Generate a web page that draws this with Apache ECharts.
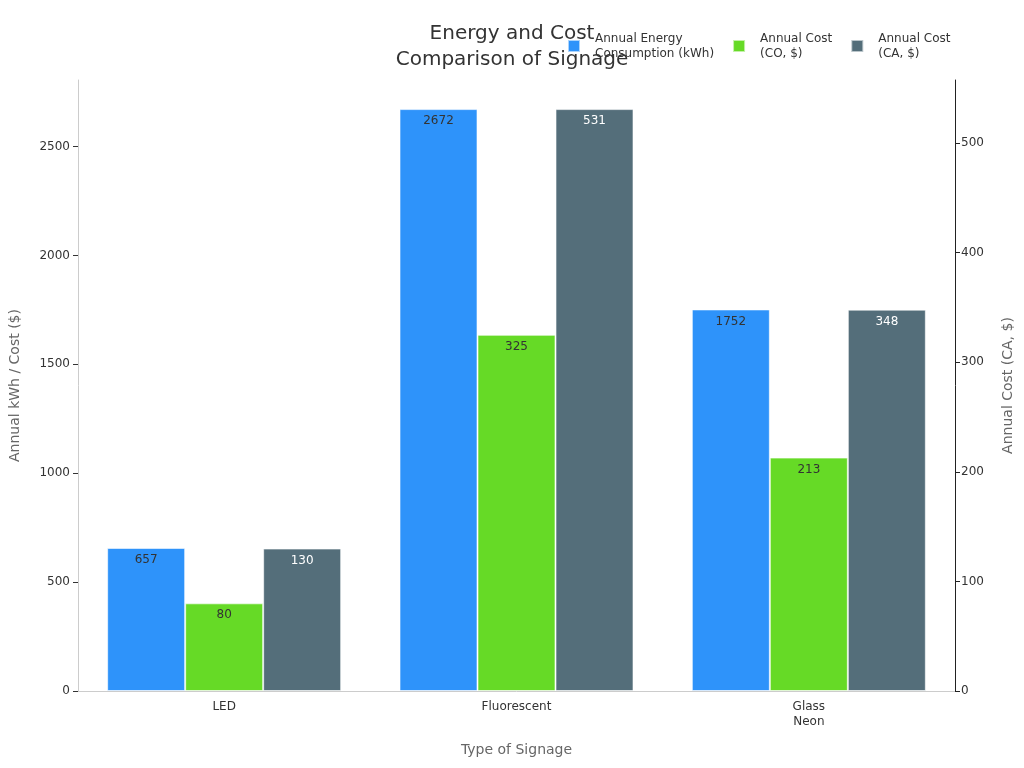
<!DOCTYPE html>
<html>
<head>
<meta charset="utf-8">
<script src="https://cdn.jsdelivr.net/npm/echarts@6/dist/echarts.min.js"></script>
<style>
  html, body { margin: 0; padding: 0; background: #fff; }
  #chart { width: 1024px; height: 768px; }
</style>
</head>
<body>
<div id="chart"></div>
<script>
var categories = ['LED', 'Fluorescent', 'Glass\nNeon'];
var energyKwh = [657, 2672, 1752];
var costCO = [80, 325, 213];
var costCA = [130, 531, 348];
var leftTicks = [0, 500, 1000, 1500, 2000, 2500];
var rightTicks = [0, 100, 200, 300, 400, 500];

var font = 'DejaVu Sans';
var leftMax = Math.max.apply(null, energyKwh) * 1.05;
var rightMax = Math.max.apply(null, costCA) * 1.05;

var chart = echarts.init(document.getElementById('chart'));

function plain(v) { return String(v); }

var option = {
  backgroundColor: '#fff',
  textStyle: { fontFamily: font },
  title: {
    text: 'Energy and Cost\nComparison of Signage',
    left: 'center',
    top: 16,
    textStyle: { fontFamily: font, fontSize: 20, fontWeight: 'normal', color: '#333', lineHeight: 26 }
  },
  legend: {
    top: 26,
    left: 562,
    itemWidth: 12,
    itemHeight: 12,
    itemGap: 18,
    icon: 'rect',
    textStyle: { fontFamily: font, fontSize: 12, color: '#333', lineHeight: 15, padding: [0, 0, 0, 10] },
    data: ['Annual Energy\nConsumption (kWh)', 'Annual Cost\n(CO, $)', 'Annual Cost\n(CA, $)']
  },
  grid: { left: 76, right: 69, top: 80, bottom: 77 },
  xAxis: {
    type: 'category',
    data: categories,
    name: 'Type of Signage',
    nameLocation: 'middle',
    nameGap: 52,
    nameTextStyle: { fontFamily: font, fontSize: 14, color: '#666' },
    axisLine: { lineStyle: { color: '#ccc' } },
    axisTick: { alignWithLabel: true, length: 4, lineStyle: { color: '#333' } },
    axisLabel: { fontFamily: font, fontSize: 12, color: '#333', margin: 8, lineHeight: 15 }
  },
  yAxis: [
    {
      type: 'value',
      min: 0,
      max: leftMax,
      name: 'Annual kWh / Cost ($)',
      nameLocation: 'middle',
      nameGap: 56,
      nameTextStyle: { fontFamily: font, fontSize: 14, color: '#666' },
      axisLine: { show: true, lineStyle: { color: '#ccc' } },
      axisTick: { show: true, length: 5, lineStyle: { color: '#333' }, customValues: leftTicks },
      axisLabel: { fontFamily: font, fontSize: 12, color: '#333', margin: 8, customValues: leftTicks, formatter: plain },
      splitLine: { show: false }
    },
    {
      type: 'value',
      min: 0,
      max: rightMax,
      position: 'right',
      name: 'Annual Cost (CA, $)',
      nameLocation: 'middle',
      nameGap: 46,
      nameRotate: 90,
      nameTextStyle: { fontFamily: font, fontSize: 14, color: '#666' },
      axisLine: { show: true, lineStyle: { color: '#222' } },
      axisTick: { show: true, length: 5, lineStyle: { color: '#222' }, customValues: rightTicks },
      axisLabel: { fontFamily: font, fontSize: 12, color: '#333', margin: 6, customValues: rightTicks, formatter: plain },
      splitLine: { show: false }
    }
  ],
  series: [
    {
      name: 'Annual Energy\nConsumption (kWh)',
      type: 'bar',
      yAxisIndex: 0,
      data: energyKwh,
      barWidth: 78,
      barGap: 0,
      itemStyle: { color: '#2E93fA', borderColor: 'rgba(255,255,255,0.6)', borderWidth: 1 },
      label: { show: true, position: 'insideTop', distance: 6, fontFamily: font, fontSize: 12, color: '#333' }
    },
    {
      name: 'Annual Cost\n(CO, $)',
      type: 'bar',
      yAxisIndex: 1,
      data: costCO,
      barWidth: 78,
      barGap: 0,
      itemStyle: { color: '#66DA26', borderColor: 'rgba(255,255,255,0.6)', borderWidth: 1 },
      label: { show: true, position: 'insideTop', distance: 6, fontFamily: font, fontSize: 12, color: '#333' }
    },
    {
      name: 'Annual Cost\n(CA, $)',
      type: 'bar',
      yAxisIndex: 1,
      data: costCA,
      barWidth: 78,
      barGap: 0,
      itemStyle: { color: '#546E7A', borderColor: 'rgba(255,255,255,0.6)', borderWidth: 1 },
      label: { show: true, position: 'insideTop', distance: 6, fontFamily: font, fontSize: 12, color: '#fff' }
    }
  ]
};

chart.setOption(option);
</script>
</body>
</html>
